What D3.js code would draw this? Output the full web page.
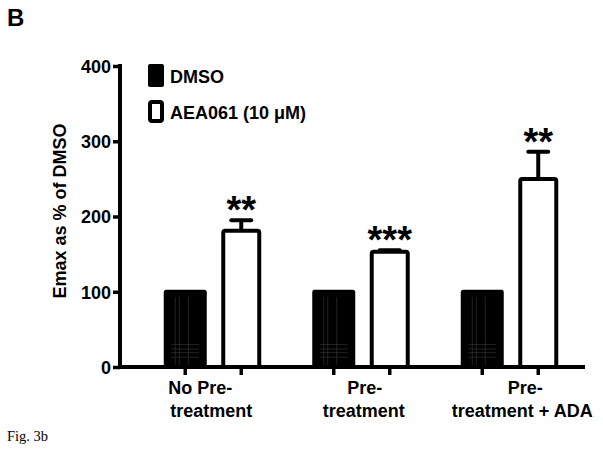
<!DOCTYPE html>
<html>
<head>
<meta charset="utf-8">
<script src="https://cdn.jsdelivr.net/npm/d3@7"></script>
<style>
  body { margin: 0; background: #fff; }
  text { font-family: "Liberation Sans", Arial, sans-serif; font-weight: bold; }
</style>
</head>
<body>
<svg class="chart" width="603" height="453"></svg>
<script>
var categories = [["No Pre-", "treatment"], ["Pre-", "treatment"], ["Pre-", "treatment + ADA"]];
var series = ["DMSO", "AEA061 (10 \u03bcM)"];
var dmsoValues = [100, 100, 100];
var aeaValues = [181, 153, 250];
var aeaErrors = [14, 2, 36];
var stars = ["**", "***", "**"];
var yTicks = [0, 100, 200, 300, 400];

var svg = d3.select("svg.chart");
var catKeys = categories.map(function (c, i) { return i; });

var y = d3.scaleLinear().domain([0, 400]).range([367, 66]);
var x = d3.scaleBand().domain(catKeys).range([139, 584.5]);
var xSub = d3.scaleBand().domain([0, 1]).range([-56, 56]);

// label nudges per line, the way the original lays them out
var labelShift = [[-13, -2], [3, 2], [15, 12]];

// panel letter + caption
svg.append("text").attr("x", 7).attr("y", 26).style("font-size", "24px").text("B");
svg.append("text").attr("x", 7).attr("y", 441)
    .style("font-family", "'Liberation Serif', 'Times New Roman', serif")
    .style("font-weight", "normal").style("font-size", "14.5px").text("Fig. 3b");

// y axis
var yAxis = svg.append("g").attr("transform", "translate(120,0)")
    .call(d3.axisLeft(y).tickValues(yTicks).tickSize(7).tickPadding(2));
yAxis.select(".domain").attr("stroke-width", 4).attr("d", "M0," + (y(400) - 2) + "V" + (y(0) + 2));
yAxis.selectAll(".tick line").attr("stroke-width", 3.5);
yAxis.selectAll(".tick text").style("font-size", "18px").attr("dy", "0.36em")
    .style("font-family", "'Liberation Sans', Arial, sans-serif");

svg.append("text")
    .attr("transform", "translate(66,211) rotate(-90)")
    .attr("text-anchor", "middle")
    .style("font-size", "18px")
    .text("Emax as % of DMSO");

// bars
var groups = svg.selectAll("g.group").data(catKeys).enter()
    .append("g").classed("group", true)
    .attr("transform", function (i) { return "translate(" + (x(i) + x.bandwidth() / 2) + ",0)"; });

groups.each(function (i) {
    var g = d3.select(this);
    var cx0 = xSub(0) + xSub.bandwidth() / 2;
    var cx1 = xSub(1) + xSub.bandwidth() / 2;
    // DMSO filled bar
    g.append("rect")
        .attr("x", cx0 - 21.5).attr("y", y(dmsoValues[i]) - 2)
        .attr("width", 43).attr("height", y(0) - y(dmsoValues[i]) + 2)
        .attr("rx", 2.5).attr("fill", "#000");
    // faint hatching in the filled bars
    [-10, -6, 3].forEach(function (dx) {
        g.append("line").attr("x1", cx0 + dx).attr("x2", cx0 + dx)
            .attr("y1", y(dmsoValues[i]) + 5).attr("y2", y(0) - 2)
            .attr("stroke", "#3a3a3a").attr("stroke-width", 0.6);
    });
    [30, 24, 19, 13].forEach(function (dv) {
        g.append("line").attr("x1", cx0 - 14).attr("x2", cx0 + 14)
            .attr("y1", y(dv)).attr("y2", y(dv))
            .attr("stroke", "#3a3a3a").attr("stroke-width", 0.6);
    });
    // error bar (upper only)
    var top = y(aeaValues[i] + aeaErrors[i]);
    g.append("line").attr("x1", cx1).attr("x2", cx1)
        .attr("y1", y(aeaValues[i])).attr("y2", top)
        .attr("stroke", "#000").attr("stroke-width", 4);
    g.append("line").attr("x1", cx1 - 10).attr("x2", cx1 + 10)
        .attr("y1", top).attr("y2", top)
        .attr("stroke", "#000").attr("stroke-width", 4).attr("stroke-linecap", "round");
    // AEA open bar
    g.append("rect")
        .attr("x", cx1 - 18).attr("y", y(aeaValues[i]))
        .attr("width", 36).attr("height", y(0) - y(aeaValues[i]))
        .attr("rx", 2).attr("fill", "#fff").attr("stroke", "#000").attr("stroke-width", 4);
    // significance stars
    g.append("text").attr("x", cx1).attr("y", top + 3)
        .attr("text-anchor", "middle").style("font-size", "38px")
        .text(stars[i]);
    // x tick marks
    [cx0, cx1].forEach(function (cx) {
        g.append("line").attr("x1", cx).attr("x2", cx)
            .attr("y1", y(0)).attr("y2", y(0) + 8)
            .attr("stroke", "#000").attr("stroke-width", 3.5);
    });
    // category labels
    categories[i].forEach(function (line, k) {
        g.append("text").attr("x", labelShift[i][k]).attr("y", 394 + k * 23)
            .attr("text-anchor", "middle").style("font-size", "18px")
            .text(line);
    });
});

// x axis line
svg.append("line").attr("x1", 118).attr("x2", 585)
    .attr("y1", y(0)).attr("y2", y(0))
    .attr("stroke", "#000").attr("stroke-width", 4);

// legend
var legend = svg.selectAll("g.legend").data(series).enter()
    .append("g").classed("legend", true)
    .attr("transform", function (d, i) { return "translate(148," + (64 + i * 36) + ")"; });
legend.append("rect")
    .attr("x", function (d, i) { return i ? 2 : 0; })
    .attr("y", function (d, i) { return i ? 2 : 0; })
    .attr("width", function (d, i) { return i ? 12 : 16; })
    .attr("height", function (d, i) { return i ? 19 : 23; })
    .attr("rx", 2)
    .attr("fill", function (d, i) { return i ? "#fff" : "#000"; })
    .attr("stroke", "#000").attr("stroke-width", function (d, i) { return i ? 4 : 0; });
legend.append("text").attr("x", 22).attr("y", 19)
    .style("font-size", "18px").text(function (d) { return d; });
</script>
</body>
</html>
